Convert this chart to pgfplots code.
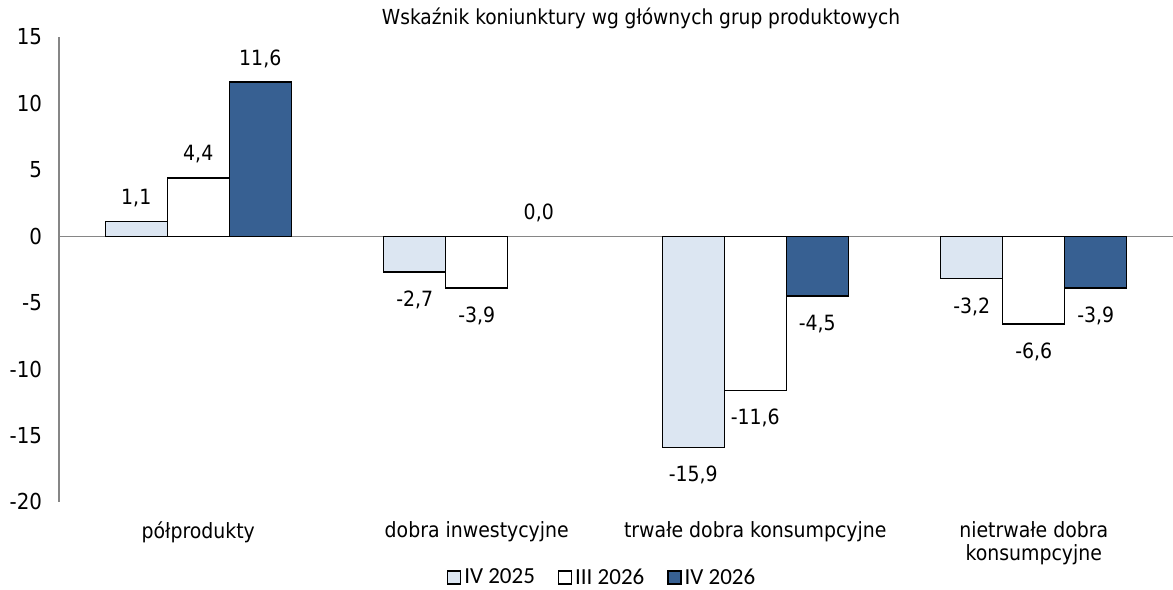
\documentclass[border=0pt]{standalone}
\usepackage{fontspec}
\setmainfont{DejaVu Sans Condensed}
\newfontfamily\legfont{Carlito}
\usepackage{pgfplots}
\pgfplotsset{compat=1.18}
\definecolor{lightb}{HTML}{DCE6F2}
\definecolor{darkb}{HTML}{376092}
\definecolor{axgray}{HTML}{868686}
\begin{document}
\begin{tikzpicture}
\begin{axis}[
  name=ax,
  scale only axis, width=557pt, height=232.5pt,
  xmin=-0.5, xmax=3.5, ymin=-20, ymax=15,
  ybar=0pt, bar width=31pt,
  axis lines*=left,
  x axis line style={draw=none},
  y axis line style={draw=axgray, line width=0.6pt},
  xtick={0,1,2,3},
  xticklabels={półprodukty, dobra inwestycyjne, trwałe dobra konsumpcyjne, {nietrwałe dobra\\konsumpcyjne}},
  xticklabel style={align=center, font=\fontsize{10.5}{11.5}\selectfont, yshift=-2pt},
  ytick={-20,-15,-10,-5,0,5,10,15},
  yticklabels={-20,-15,-10,-5,0,5,10,15},
  yticklabel style={font=\fontsize{11}{12}\selectfont, xshift=-5pt},
  tick style={draw=none},
  extra y ticks={0}, extra y tick labels={},
  extra y tick style={grid=major, major grid style={draw=axgray, line width=0.6pt}},
  legend style={at={(0.488,0)}, anchor=center, yshift=-38pt, draw=none,
    font=\legfont\fontsize{11.5}{13}\selectfont,
    column sep=0pt, nodes={inner xsep=1.5pt},
    /tikz/every even column/.append style={column sep=10pt}},
  legend columns=3,
  legend image code/.code={\draw[#1,draw=black,line width=0.6pt] (0pt,-3pt) rectangle (6.5pt,3.5pt);},
  nodes near coords,
  point meta=explicit symbolic,
  visualization depends on={value \thisrow{anc} \as \myanc},
  visualization depends on={value \thisrow{dy} \as \mydy},
  every node near coord/.append style={font=\fontsize{10.5}{12}\selectfont, inner ysep=7pt, black, anchor=\myanc, yshift=\mydy pt},
]
\addplot[fill=lightb, draw=black, line width=0.7pt] table[meta=lab] {
x y lab anc dy
0 1.1 1,1 south 0
1 -2.7 -2,7 north -2
2 -15.9 -15,9 north -2
3 -3.2 -3,2 north -2
};
\addplot[fill=white, draw=black, line width=0.7pt] table[meta=lab] {
x y lab anc dy
0 4.4 4,4 south 0
1 -3.9 -3,9 north -2
2 -11.6 -11,6 north -2
3 -6.6 -6,6 north -2
};
\addplot[fill=darkb, draw=black, line width=0.7pt] table[meta=lab] {
x y lab anc dy
0 11.6 11,6 south 0
2 -4.5 -4,5 north -2
3 -3.9 -3,9 north -2
};
\addplot[draw=none, fill=none, bar shift=31pt, forget plot] table[meta=lab] {
x y lab anc dy
1 0.0 0,0 south 0
};
\legend{IV 2025, III 2026, IV 2026}
\end{axis}
\node[font=\fontsize{10.35}{12}\selectfont] at ([xshift=12.5pt,yshift=9.5pt]ax.north) {Wskaźnik koniunktury wg głównych grup produktowych};
\pgfresetboundingbox
\path ([xshift=-29.5pt,yshift=-44pt]ax.south west) rectangle ([yshift=18.5pt]ax.north east);
\end{tikzpicture}
\end{document}
